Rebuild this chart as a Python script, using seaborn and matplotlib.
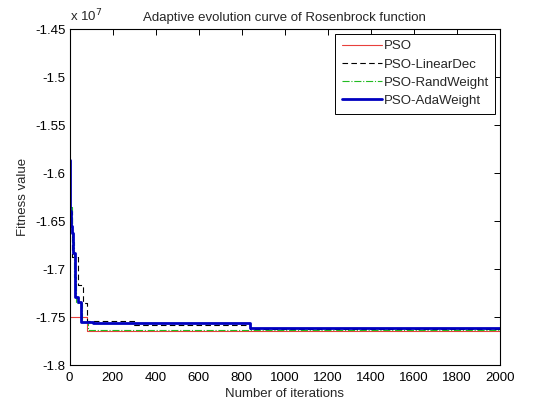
import numpy as np
import pandas as pd
import matplotlib
matplotlib.use("Agg")
import matplotlib.pyplot as plt
import seaborn as sns
from matplotlib.ticker import FuncFormatter

sns.set_theme(style="white")
plt.rcParams['font.family'] = ['Liberation Sans', 'DejaVu Sans']

# Step breakpoints (iteration, fitness value)
pso_iter = [0, 82, 2000]
pso_val = [-1.7505e7, -1.7645e7, -1.7645e7]

lin_iter = [0, 10, 41, 61, 80, 300, 840, 2000]
lin_val = [-1.64e7, -1.6875e7, -1.717e7, -1.735e7, -1.754e7, -1.758e7, -1.7625e7, -1.7625e7]

rand_iter = [0, 12, 22, 30, 60, 88, 2000]
rand_val = [-1.635e7, -1.672e7, -1.708e7, -1.735e7, -1.755e7, -1.7632e7, -1.7632e7]

ada_iter = [0, 2, 5, 10, 15, 26, 41, 52, 110, 840, 2000]
ada_val = [-1.586e7, -1.64e7, -1.655e7, -1.662e7, -1.683e7, -1.729e7, -1.734e7,
           -1.7548e7, -1.7558e7, -1.7615e7, -1.7615e7]

series_names = ["PSO", "PSO-LinearDec", "PSO-RandWeight", "PSO-AdaWeight"]
x_ticks = list(range(0, 2001, 200))
y_ticks = [-1.45e7, -1.5e7, -1.55e7, -1.6e7, -1.65e7, -1.7e7, -1.75e7, -1.8e7]

FS = 9.5
fig = plt.figure(figsize=(5.34, 4.04), dpi=100)
ax = fig.add_axes([69.5 / 534, (404 - 365) / 404, (500 - 69.5) / 534, (365 - 29) / 404])

styles = [
    dict(color="#e8403c", linestyle="-", linewidth=0.8),
    dict(color="black", linestyle=(0, (5, 3)), linewidth=0.8),
    dict(color="#22bb22", linestyle="-.", linewidth=0.8),
    dict(color="#0000c0", linestyle="-", linewidth=2.0),
]
data = [(pso_iter, pso_val), (lin_iter, lin_val), (rand_iter, rand_val), (ada_iter, ada_val)]
for name, (xs, ys), st in zip(series_names, data, styles):
    df = pd.DataFrame({"iter": xs, "val": ys})
    sns.lineplot(data=df, x="iter", y="val", ax=ax, label=name, drawstyle="steps-post",
                 estimator=None, sort=False, **st)

ax.set_xlim(0, 2000)
ax.set_ylim(-1.8e7, -1.45e7)
ax.set_xticks(x_ticks)
ax.set_yticks(y_ticks)
ax.yaxis.set_major_formatter(FuncFormatter(lambda v, p: f"{v/1e7:g}"))
ax.tick_params(direction="in", length=4, width=0.7, top=True, right=True,
               labelsize=FS, colors="black", pad=3)
ax.tick_params(axis="x", pad=5)
for s in ax.spines.values():
    s.set_color("black")
    s.set_linewidth(0.8)

ax.set_xlabel("Number of iterations", fontsize=FS, labelpad=3)
ax.set_ylabel("Fitness value", fontsize=FS, labelpad=4)
ax.set_title("Adaptive evolution curve of Rosenbrock function", fontsize=FS, pad=6)
fig.text(70 / 534, 1 - 21 / 404, r"x 10$^{7}$", fontsize=FS, ha="left", va="baseline")

leg = ax.legend(loc="upper right", fontsize=FS, frameon=True, fancybox=False,
                edgecolor="black", framealpha=1, borderaxespad=0.35,
                handlelength=3.0, labelspacing=0.45, borderpad=0.5, handletextpad=0.15)
leg.get_frame().set_linewidth(0.7)

fig.savefig("out.png", dpi=100)
